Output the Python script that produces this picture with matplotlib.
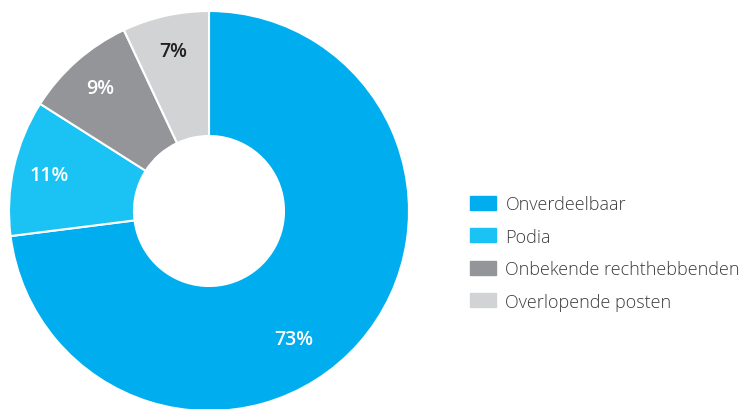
import numpy as np
import matplotlib.pyplot as plt
import matplotlib.patches as mpatches

labels = ['Onverdeelbaar', 'Podia', 'Onbekende rechthebbenden', 'Overlopende posten']
values = [73, 11, 9, 7]
colors = ['#00AEEF', '#1AC3F3', '#939598', '#D1D3D4']
label_colors = ['white', 'white', 'white', '#231F20']

plt.rcParams['font.family'] = ['Open Sans', 'DejaVu Sans']

fig = plt.figure(figsize=(7.39, 4.10), dpi=100)
# donut: center ~ (209, 212) px, outer radius ~200 px
ax = fig.add_axes([9 / 739, -2 / 410, 400 / 739, 400 / 410])

wedges, texts, autotexts = ax.pie(
    values, colors=colors, startangle=90, counterclock=False,
    radius=1.0, autopct='%d%%', pctdistance=0.82,
    wedgeprops=dict(width=0.625, edgecolor='white', linewidth=1.5),
)
ax.set_xlim(-1, 1)
ax.set_ylim(-1, 1)
ax.set_aspect('equal')
ax.axis('off')

for t, c in zip(autotexts, label_colors):
    t.set_color(c)
    t.set_fontsize(14)
    t.set_fontweight('semibold')

# the big slice label sits a bit further round than its middle
ang = np.deg2rad(-56.5)
autotexts[0].set_position((0.77 * np.cos(ang), 0.77 * np.sin(ang)))

handles = [mpatches.Patch(color=c, label=l) for c, l in zip(colors, labels)]
leg = fig.legend(handles=handles, loc='upper left', bbox_to_anchor=(463 / 739, 1 - 189 / 410),
                 frameon=False, fontsize=13, handlelength=1.45, handleheight=0.8,
                 handletextpad=0.5, labelspacing=0.8, borderaxespad=0)
for t in leg.get_texts():
    t.set_color('#3C3C3C')
    t.set_fontweight('light')

fig.savefig('out.png', dpi=100)
